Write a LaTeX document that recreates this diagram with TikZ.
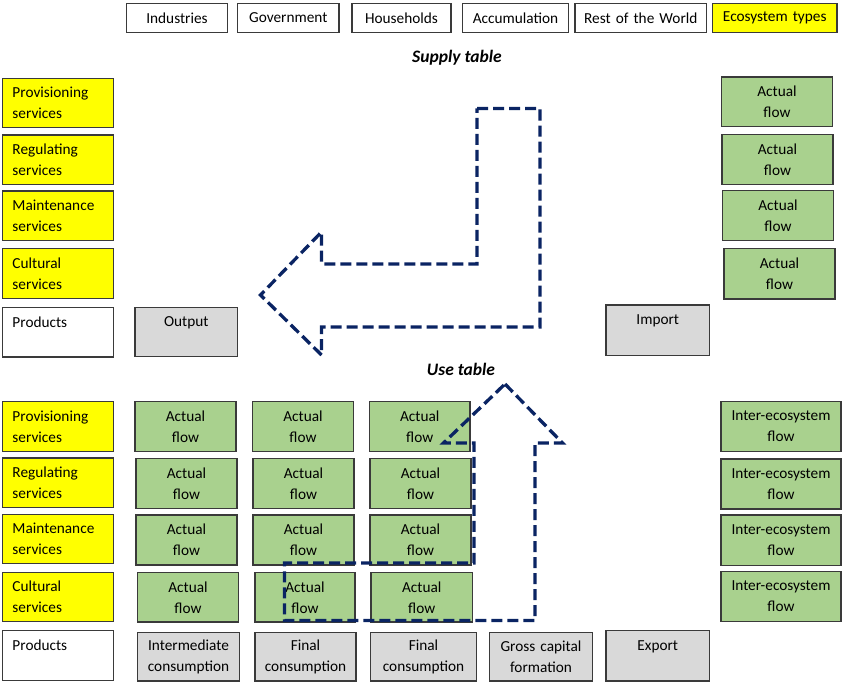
\documentclass[tikz,border=0pt]{standalone}
\usepackage{fontspec}
\setmainfont{Carlito}
\definecolor{svcyellow}{HTML}{FFFF00}
\definecolor{flowgreen}{HTML}{A9D18E}
\definecolor{prodgrey}{HTML}{D9D9D9}
\definecolor{edgegrey}{HTML}{3A3A3A}
\definecolor{pathnavy}{HTML}{0A2463}
\tikzset{
  cellbase/.style={draw=edgegrey, line width=1.1pt, outer sep=0pt,
    font=\fontsize{15.3}{21}\selectfont},
  headbox/.style={cellbase, fill=white, align=center},
  svcbox/.style={cellbase, fill=svcyellow, align=left},
  prodbox/.style={cellbase, fill=white, align=left},
  flowbox/.style={cellbase, fill=flowgreen, align=center},
  greybox/.style={cellbase, fill=prodgrey, align=center},
  ecobox/.style={cellbase, fill=svcyellow, align=center},
  tabletitle/.style={font=\fontsize{17.5}{20}\selectfont\bfseries\itshape},
  flowpath/.style={draw=pathnavy, line width=3.3pt, dash pattern=on 11pt off 5pt,
    line join=miter}
}
% style, padding, name, x1, y1, x2, y2, text
\newcommand\drawcell[8]{%
  \pgfmathsetmacro\cw{#6-#4}\pgfmathsetmacro\ch{#7-#5}\pgfmathsetmacro\tw{#6-#4-2*#2}%
  \node[#1, anchor=north west, minimum width=\cw pt, minimum height=\ch pt,
        text width=\tw pt, inner xsep=#2pt, inner ysep=0pt] (#3) at (#4,#5) {#8};}
\begin{document}
\begin{tikzpicture}[x=1pt,y=-1pt]
\useasboundingbox (0,0) rectangle (842,682);

% column headers
\drawcell{headbox}{4}{ind}{126.5}{3.5}{227.5}{32.5}{Industries}
\drawcell{headbox}{4}{gov}{237.5}{3.5}{339}{32.5}{Government}
\drawcell{headbox}{4}{hh}{352}{3.5}{451}{32.5}{Households}
\drawcell{headbox}{4}{acc}{462.5}{3.5}{568.5}{32.5}{Accumulation}
\drawcell{headbox}{3}{row}{575}{3.5}{706.5}{32.5}{Rest of the World}
\drawcell{ecobox}{3}{eco}{712.5}{3.5}{837}{32.5}{Ecosystem types}

% supply table
\node[tabletitle] (suptitle) at (457,58) {Supply table};
\drawcell{svcbox}{10}{sprov}{2.5}{78.5}{113.5}{127.5}{Provisioning\\services}
\drawcell{svcbox}{10}{sreg}{2.5}{135}{113.5}{184.5}{Regulating\\services}
\drawcell{svcbox}{10}{smaint}{2.5}{191}{113.5}{240.5}{Maintenance\\services}
\drawcell{svcbox}{10}{scult}{2.5}{248.5}{113.5}{298.5}{Cultural\\services}
\drawcell{prodbox}{10}{sprod}{2.5}{307.5}{113.5}{357}{Products\\~}
\drawcell{greybox}{4}{output}{135}{307.5}{237.5}{356.5}{Output\\~}
\drawcell{greybox}{4}{import}{606}{305}{709.5}{355.5}{Import\\~}
\drawcell{flowbox}{4}{sa1}{721.5}{77}{832.5}{126.5}{Actual\\flow}
\drawcell{flowbox}{4}{sa2}{722}{134.5}{833}{184.5}{Actual\\flow}
\drawcell{flowbox}{4}{sa3}{722.5}{190.5}{833.5}{240.5}{Actual\\flow}
\drawcell{flowbox}{4}{sa4}{724}{248.5}{835}{299}{Actual\\flow}

% use table
\node[tabletitle] (usetitle) at (461,369) {Use table};
\drawcell{svcbox}{10}{uprov}{2.5}{401.5}{113.5}{451.5}{Provisioning\\services}
\drawcell{svcbox}{10}{ureg}{2.5}{458}{113.5}{507.5}{Regulating\\services}
\drawcell{svcbox}{10}{umaint}{2.5}{514.5}{113.5}{563.5}{Maintenance\\services}
\drawcell{svcbox}{10}{ucult}{2.5}{572.5}{113.5}{621.5}{Cultural\\services}
\drawcell{prodbox}{10}{uprod}{2.5}{630.5}{113.5}{680.5}{Products\\~}

\drawcell{flowbox}{4}{ua11}{135}{401.5}{236}{451.5}{Actual\\flow}
\drawcell{flowbox}{4}{ua12}{252.5}{401.5}{353.5}{451.5}{Actual\\flow}
\drawcell{flowbox}{4}{ua13}{369.5}{401.5}{470}{451.5}{Actual\\flow}
\drawcell{flowbox}{4}{ua21}{136}{458.5}{237}{508.5}{Actual\\flow}
\drawcell{flowbox}{4}{ua22}{253}{458.5}{354}{508.5}{Actual\\flow}
\drawcell{flowbox}{4}{ua23}{370}{458.5}{471}{508.5}{Actual\\flow}
\drawcell{flowbox}{4}{ua31}{136}{515}{237}{565}{Actual\\flow}
\drawcell{flowbox}{4}{ua32}{253}{515}{354}{565}{Actual\\flow}
\drawcell{flowbox}{4}{ua33}{370}{515}{471}{565}{Actual\\flow}
\drawcell{flowbox}{4}{ua41}{137.5}{572.5}{238.5}{622}{Actual\\flow}
\drawcell{flowbox}{4}{ua42}{255}{572.5}{355}{622}{Actual\\flow}
\drawcell{flowbox}{4}{ua43}{371}{572.5}{472.5}{622}{Actual\\flow}

\drawcell{greybox}{3}{intc}{137.5}{632.5}{239.5}{681}{Intermediate\\consumption}
\drawcell{greybox}{3}{finc1}{255}{632.5}{356}{681}{Final\\consumption}
\drawcell{greybox}{3}{finc2}{370.5}{632.5}{476.5}{681}{Final\\consumption}
\drawcell{greybox}{3}{gcf}{489.5}{632.5}{592.5}{681}{Gross capital\\formation}
\drawcell{greybox}{4}{export}{606}{630.5}{709.5}{681}{Export\\~}

\drawcell{flowbox}{2}{ie1}{721}{401.5}{841}{451.5}{Inter-ecosystem\\flow}
\drawcell{flowbox}{2}{ie2}{721}{459}{841}{509}{Inter-ecosystem\\flow}
\drawcell{flowbox}{2}{ie3}{721}{515}{841}{565.5}{Inter-ecosystem\\flow}
\drawcell{flowbox}{2}{ie4}{721}{571.5}{841}{621.5}{Inter-ecosystem\\flow}

% dashed bent arrow: supply direction
\draw[flowpath] (477,108.5) -- (540,108.5) -- (540,327) -- (321.5,327) -- (321.5,355)
  -- (260.5,295) -- (321.5,232) -- (321.5,264) -- (477,264) -- cycle;

% dashed bent arrow: use direction
\draw[flowpath] (505,384) -- (562.5,443) -- (535,443) -- (535,620.5) -- (284.5,620.5)
  -- (284.5,563) -- (474,563) -- (474,443) -- (443.5,443) -- cycle;
\end{tikzpicture}
\end{document}
